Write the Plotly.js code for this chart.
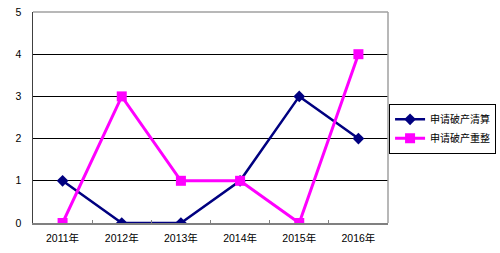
<!DOCTYPE html>
<html>
<head>
<meta charset="utf-8">
<script src="https://cdn.plot.ly/plotly-3.0.1.min.js"></script>
<style>html,body{margin:0;padding:0;background:#fff;}#chart{width:500px;height:253px;}</style>
</head>
<body>
<div id="chart"></div>
<script>
const categories = ["2011年", "2012年", "2013年", "2014年", "2015年", "2016年"];
const seriesNames = ["申请破产清算", "申请破产重整"];
const liquidation = [1, 0, 0, 1, 3, 2];
const reorganization = [0, 3, 1, 1, 0, 4];
const yTicks = [0, 1, 2, 3, 4, 5];

const fontFamily = "Liberation Sans, Arial, Noto Sans CJK SC, sans-serif";

const traces = [
  {
    x: categories, y: liquidation, name: seriesNames[0], type: "scatter", mode: "lines+markers",
    line: {color: "#000080", width: 2.5},
    marker: {symbol: "diamond", size: 9, color: "#000080"}
  },
  {
    x: categories, y: reorganization, name: seriesNames[1], type: "scatter", mode: "lines+markers",
    line: {color: "#FF00FF", width: 3},
    marker: {symbol: "square", size: 10, color: "#FF00FF"}
  }
];

const layout = {
  width: 500, height: 253,
  margin: {l: 33, r: 112, t: 12, b: 30, autoexpand: false},
  paper_bgcolor: "#ffffff", plot_bgcolor: "#ffffff",
  font: {family: fontFamily, size: 10.5, color: "#000"},
  showlegend: true,
  legend: {
    x: 1.003, y: 0.565, xanchor: "left", yanchor: "top",
    bordercolor: "#000", borderwidth: 1, bgcolor: "#fff",
    font: {family: fontFamily, size: 10, color: "#000"},
    itemwidth: 30, tracegroupgap: 0
  },
  xaxis: {
    type: "category", range: [-0.5, 5.5],
    showgrid: false, showline: true, linecolor: "#808080", linewidth: 1.5,
    ticks: "inside", tickson: "boundaries", ticklen: 3, tickcolor: "#808080",
    tickfont: {size: 10.5}, ticklabelstandoff: 5, fixedrange: true
  },
  yaxis: {
    range: [0, 5], tickvals: yTicks, ticktext: yTicks.map(String),
    showgrid: true, gridcolor: "#000", gridwidth: 1,
    showline: true, linecolor: "#404040", linewidth: 1.5, ticks: "",
    zeroline: false, tickfont: {size: 10.5}, ticklabelstandoff: 8
  },
  shapes: [
    {type: "line", xref: "paper", yref: "paper", x0: 0, x1: 1, y0: 1, y1: 1, line: {color: "#a0a0a0", width: 1.5}},
    {type: "line", xref: "paper", yref: "paper", x0: 1, x1: 1, y0: 0, y1: 1, line: {color: "#a0a0a0", width: 1.5}}
  ]
};

Plotly.newPlot("chart", traces, layout, {displayModeBar: false, staticPlot: true});
</script>
</body>
</html>
